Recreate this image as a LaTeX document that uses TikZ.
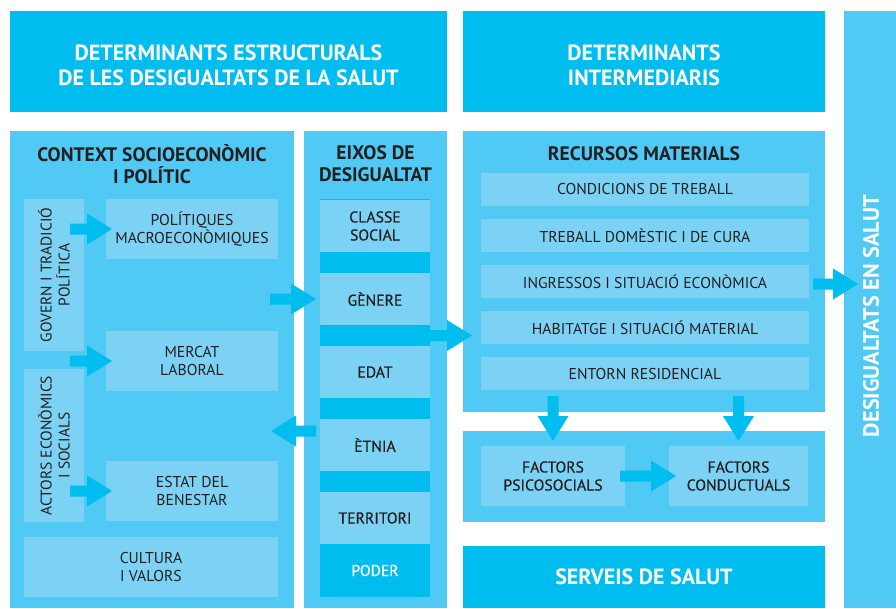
\documentclass[tikz,border=0pt]{standalone}
\usepackage{fontspec}
\setmainfont{PT Sans}
\newfontfamily\medfont[FakeBold=0.5]{PT Sans}
\usetikzlibrary{calc}
\definecolor{dk}{HTML}{00BDF0}
\definecolor{md}{HTML}{50C9F4}
\definecolor{lt}{HTML}{7CD2F5}
\definecolor{tx}{HTML}{231F20}
\newcommand\bigarr[2]{%
  \coordinate (hb) at ($(#2)!25pt!(#1)$);
  \fill[dk] ($(#1)!5.5pt!90:(#2)$) -- ($(hb)!5.5pt!90:(#2)$) -- ($(hb)!15.5pt!90:(#2)$) -- (#2)
    -- ($(hb)!15.5pt!-90:(#2)$) -- ($(hb)!5.5pt!-90:(#2)$) -- ($(#1)!5.5pt!-90:(#2)$) -- cycle;}
\tikzset{
  box/.style={inner sep=0pt, outer sep=0pt, anchor=north west, align=center},
  dbox/.style={box, fill=dk},
  mbox/.style={box, fill=md},
  lbox/.style={box, fill=lt, text=tx, font=\fontsize{15.7}{18}\selectfont},
  ebox/.style={lbox, font=\medfont\fontsize{15.7}{18}\selectfont},
  hdr/.style={text=white, align=center, font=\bfseries\fontsize{22}{25}\selectfont},
  ttl/.style={text=tx, align=center, font=\bfseries\fontsize{19.5}{22}\selectfont},
  itm/.style={text=tx, align=center, font=\fontsize{15.5}{18}\selectfont},
}
\begin{document}
\begin{tikzpicture}[x=1pt, y=-1pt]
\useasboundingbox (0,0) rectangle (896,608);
% headers
\node[dbox, minimum width=437pt, minimum height=101pt] (hdrA) at (10,11) {};
\node[dbox, minimum width=362pt, minimum height=101pt] (hdrB) at (463,11) {};
\node[hdr] (hdrAt) at (228.5,65.5) {DETERMINANTS ESTRUCTURALS\\DE LES DESIGUALTATS DE LA SALUT};
\node[hdr] (hdrBt) at (644,65.5) {DETERMINANTS\\INTERMEDIARIS};
% right bar
\node[mbox, minimum width=52pt, minimum height=597pt] (bar) at (844,11) {};
\node[hdr, rotate=90, font=\bfseries\fontsize{22.3}{25}\selectfont] (bart) at (871,316) {DESIGUALTATS EN SALUT};
% panels
\node[mbox, minimum width=284pt, minimum height=477pt] (ctx) at (10,131) {};
\node[mbox, minimum width=143pt, minimum height=477pt] (eix) at (304,131) {};
\node[mbox, minimum width=362pt, minimum height=281pt] (rec) at (463,131) {};
\node[mbox, minimum width=362pt, minimum height=91pt] (fac) at (463,431) {};
\node[dbox, minimum width=362pt, minimum height=62pt, text=white, font=\bfseries\fontsize{22}{25}\selectfont] (srv) at (463,546) {SERVEIS DE SALUT};
% titles
\node[ttl] (ctxt) at (152,164) {CONTEXT SOCIOECONÒMIC\\I POLÍTIC};
\node[ttl] (eixt) at (375.5,164) {EIXOS DE\\DESIGUALTAT};
\node[ttl] (rect) at (644,154) {RECURSOS MATERIALS};
% left inner
\node[lbox, minimum width=60pt, minimum height=152pt] (gov) at (24,199) {};
\node[itm, rotate=90] (govt) at (gov.center) {GOVERN I TRADICIÓ\\POLÍTICA};
\node[lbox, minimum width=60pt, minimum height=153pt] (act) at (24,369) {};
\node[itm, rotate=90] (actt) at (act.center) {ACTORS ECONÒMICS\\I SOCIALS};
\node[lbox, minimum width=172pt, minimum height=60pt] (pol) at (106,199) {POLÍTIQUES\\MACROECONÒMIQUES};
\node[lbox, minimum width=172pt, minimum height=60pt] (mer) at (106,331) {MERCAT\\LABORAL};
\node[lbox, minimum width=172pt, minimum height=60pt] (est) at (106,461) {ESTAT DEL\\BENESTAR};
\node[lbox, minimum width=254pt, minimum height=60pt] (cul) at (24,537) {CULTURA\\I VALORS};
% eixos column
\node[dbox, minimum width=110pt, minimum height=398pt] (col) at (320,199) {};
\node[ebox, minimum width=110pt, minimum height=52pt] (cls) at (320,200) {CLASSE\\SOCIAL};
\node[ebox, minimum width=110pt, minimum height=52pt] (gen) at (320,273) {GÈNERE};
\node[ebox, minimum width=110pt, minimum height=52pt] (eda) at (320,346) {EDAT};
\node[ebox, minimum width=110pt, minimum height=52pt] (etn) at (320,419) {ÈTNIA};
\node[ebox, minimum width=110pt, minimum height=52pt] (ter) at (320,492) {TERRITORI};
\node[dbox, minimum width=110pt, minimum height=53pt, text=white, font=\medfont\fontsize{15.7}{18}\selectfont] (pod) at (320,544) {PODER};
% recursos rows
\node[lbox, minimum width=328pt, minimum height=33pt] (r1) at (481,173) {CONDICIONS DE TREBALL};
\node[lbox, minimum width=328pt, minimum height=33pt] (r2) at (481,219) {TREBALL DOMÈSTIC I DE CURA};
\node[lbox, minimum width=328pt, minimum height=33pt] (r3) at (481,265) {INGRESSOS I SITUACIÓ ECONÒMICA};
\node[lbox, minimum width=328pt, minimum height=33pt] (r4) at (481,311) {HABITATGE I SITUACIÓ MATERIAL};
\node[lbox, minimum width=328pt, minimum height=33pt] (r5) at (481,357) {ENTORN RESIDENCIAL};
% factors
\node[ebox, minimum width=144pt, minimum height=60pt] (psi) at (481,446) {FACTORS\\PSICOSOCIALS};
\node[ebox, minimum width=139pt, minimum height=60pt] (con) at (669,446) {FACTORS\\CONDUCTUALS};
% arrow end points
\coordinate (a1s) at ([xshift=-14pt]gov.east |- pol.west);
\coordinate (a1e) at ([xshift=6pt]pol.west);
\coordinate (a2s) at ([xshift=-14pt]gov.east |- mer.west);
\coordinate (a2e) at ([xshift=6pt]mer.west);
\coordinate (a3s) at ([xshift=-14pt]act.east |- est.west);
\coordinate (a3e) at ([xshift=6pt]est.west);
\coordinate (a4s) at ([xshift=-24pt]ctx.east |- gen.west);
\coordinate (a4e) at ([xshift=-4pt]gen.west);
\coordinate (a5s) at ([xshift=-4pt,yshift=14pt]etn.west);
\coordinate (a5e) at ([xshift=-23pt]ctx.east |- a5s);
\coordinate (a6s) at ($(gen.south east)!0.5!(eda.north east)$);
\coordinate (a6e) at ([xshift=9pt]rec.west |- a6s);
\coordinate (a7s) at ([xshift=-12pt,yshift=-2.5pt]rec.east |- r3.east);
\coordinate (a7e) at ([xshift=14pt]bar.west |- a7s);
\coordinate (a8s) at ([yshift=16pt]rec.south -| psi.north);
\coordinate (a8e) at ([yshift=5pt]psi.north);
\coordinate (a9s) at ([yshift=16pt]rec.south -| con.north);
\coordinate (a9e) at ([yshift=5pt]con.north);
\coordinate (a10s) at ([xshift=-5pt]psi.east);
\coordinate (a10e) at ([xshift=7pt]con.west);
\bigarr{a1s}{a1e}
\bigarr{a2s}{a2e}
\bigarr{a3s}{a3e}
\bigarr{a4s}{a4e}
\bigarr{a5s}{a5e}
\bigarr{a6s}{a6e}
\bigarr{a7s}{a7e}
\bigarr{a8s}{a8e}
\bigarr{a9s}{a9e}
\bigarr{a10s}{a10e}
\end{tikzpicture}
\end{document}
